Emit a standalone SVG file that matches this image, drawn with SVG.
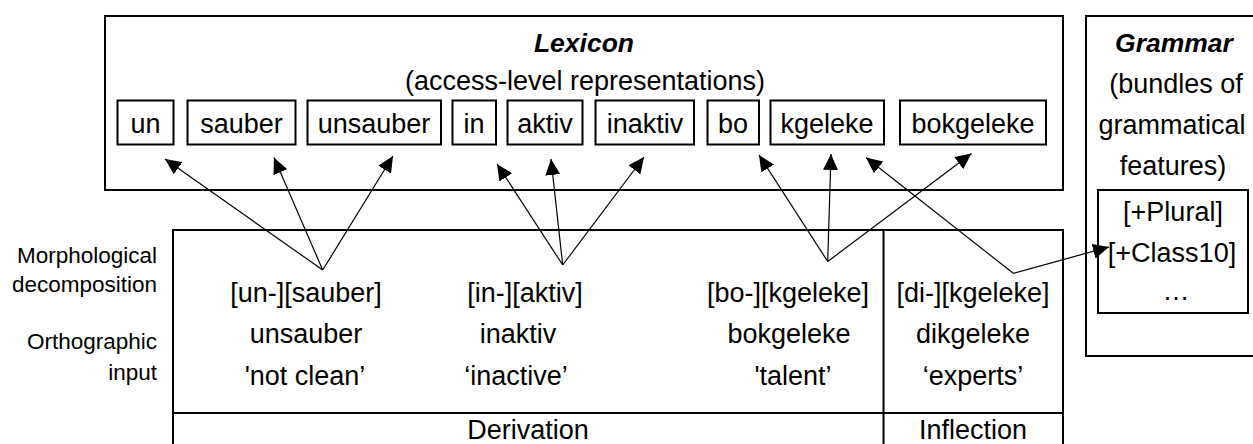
<svg xmlns="http://www.w3.org/2000/svg" width="1253" height="444" viewBox="0 0 1253 444">
  <defs>
    <style>
      text { font-family: "Liberation Sans", Arial, sans-serif; fill: #000; }
      .t { font-size: 27px; text-anchor: middle; }
      .title { font-size: 26.5px; font-weight: bold; font-style: italic; text-anchor: middle; }
      .side { font-size: 22.5px; text-anchor: end; }
      .frame { fill: #fff; stroke: #000; stroke-width: 2; }
      .cell { fill: none; stroke: #000; stroke-width: 2; }
      .link { fill: none; stroke: #000; stroke-width: 1.2; marker-end: url(#head); }
    </style>
    <marker id="head" markerUnits="userSpaceOnUse" markerWidth="17" markerHeight="15" refX="16" refY="7.5" orient="auto">
      <path d="M0,0 L16,7.5 L0,15 z" fill="#000"/>
    </marker>
  </defs>
  <rect width="1253" height="444" fill="#fff"/>

  <!-- Lexicon store -->
  <g id="lexicon">
    <rect class="frame" x="105" y="16" width="958" height="174"/>
    <text class="title" x="584" y="52">Lexicon</text>
    <text class="t" x="585" y="90">(access-level representations)</text>
  </g>
  <g id="lex-un"><rect class="cell" x="117.5" y="100.5" width="56" height="44"/><text class="t" x="145.5" y="133">un</text></g>
  <g id="lex-sauber"><rect class="cell" x="187.5" y="100.5" width="108" height="44"/><text class="t" x="241.5" y="133">sauber</text></g>
  <g id="lex-unsauber"><rect class="cell" x="307.5" y="100.5" width="133.5" height="44"/><text class="t" x="374" y="133">unsauber</text></g>
  <g id="lex-in"><rect class="cell" x="452.5" y="100.5" width="43.5" height="44"/><text class="t" x="474" y="133">in</text></g>
  <g id="lex-aktiv"><rect class="cell" x="507.5" y="100.5" width="75" height="44"/><text class="t" x="545" y="133">aktiv</text></g>
  <g id="lex-inaktiv"><rect class="cell" x="595.5" y="100.5" width="98.5" height="44"/><text class="t" x="645" y="133">inaktiv</text></g>
  <g id="lex-bo"><rect class="cell" x="707.5" y="100.5" width="51.5" height="44"/><text class="t" x="733" y="133">bo</text></g>
  <g id="lex-kgeleke"><rect class="cell" x="770.5" y="100.5" width="113.5" height="44"/><text class="t" x="827" y="133">kgeleke</text></g>
  <g id="lex-bokgeleke"><rect class="cell" x="900" y="100.5" width="146" height="44"/><text class="t" x="973" y="133">bokgeleke</text></g>

  <!-- Grammar store -->
  <g id="grammar">
    <rect class="frame" x="1086" y="16" width="180" height="340"/>
    <text class="title" x="1174" y="52">Grammar</text>
    <text class="t" x="1176" y="93">(bundles of</text>
    <text class="t" x="1172" y="134">grammatical</text>
    <text class="t" x="1173" y="175">features)</text>
  </g>
  <g id="features">
    <rect class="cell" x="1098" y="190" width="150" height="123"/>
    <text class="t" x="1173" y="221">[+Plural]</text>
    <text class="t" x="1172" y="262">[+Class10]</text>
    <text class="t" x="1176" y="300">…</text>
  </g>

  <!-- Processing levels -->
  <g id="levels">
    <text class="side" x="157" y="263">Morphological</text>
    <text class="side" x="157" y="292">decomposition</text>
    <text class="side" x="157" y="349">Orthographic</text>
    <text class="side" x="157" y="380">input</text>
  </g>

  <!-- Input table -->
  <g id="table">
    <rect class="cell" x="173" y="230" width="890" height="230"/>
    <line class="cell" x1="173" y1="413" x2="1063" y2="413"/>
    <line class="cell" x1="883.5" y1="230" x2="883.5" y2="460"/>
    <text class="t" x="528" y="439">Derivation</text>
    <text class="t" x="973" y="439">Inflection</text>
  </g>
  <g id="word-unsauber">
    <text class="t" x="306" y="302">[un-][sauber]</text>
    <text class="t" x="306" y="343">unsauber</text>
    <text class="t" x="305" y="385">'not clean’</text>
  </g>
  <g id="word-inaktiv">
    <text class="t" x="525" y="302">[in-][aktiv]</text>
    <text class="t" x="518" y="343">inaktiv</text>
    <text class="t" x="516" y="385">‘inactive’</text>
  </g>
  <g id="word-bokgeleke">
    <text class="t" x="788" y="302">[bo-][kgeleke]</text>
    <text class="t" x="789" y="343">bokgeleke</text>
    <text class="t" x="793" y="385">'talent’</text>
  </g>
  <g id="word-dikgeleke">
    <text class="t" x="973" y="302">[di-][kgeleke]</text>
    <text class="t" x="973" y="343">dikgeleke</text>
    <text class="t" x="973" y="385">‘experts’</text>
  </g>

  <!-- Connectors -->
  <g id="connectors">
    <line class="link" x1="322.7" y1="270" x2="165" y2="159"/>
    <line class="link" x1="322.7" y1="270" x2="274" y2="157.5"/>
    <line class="link" x1="322.7" y1="270" x2="393" y2="156"/>
    <line class="link" x1="562.7" y1="265" x2="497" y2="164"/>
    <line class="link" x1="562.7" y1="265" x2="551" y2="159"/>
    <line class="link" x1="562.7" y1="265" x2="644" y2="157"/>
    <line class="link" x1="827.7" y1="261.5" x2="759" y2="155"/>
    <line class="link" x1="827.7" y1="261.5" x2="831" y2="154"/>
    <line class="link" x1="827.7" y1="261.5" x2="971.5" y2="153.5"/>
    <line class="link" x1="1013.3" y1="273.3" x2="866" y2="157.5"/>
    <line class="link" x1="1013.3" y1="273.3" x2="1109" y2="247"/>
  </g>
</svg>
